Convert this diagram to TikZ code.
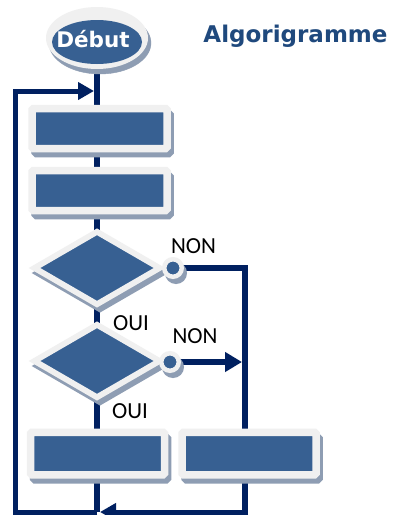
\documentclass[tikz,border=0pt]{standalone}
\usepackage{fontspec}
\setmainfont{Carlito}
\newfontfamily\dejavu{DejaVu Sans}
\usetikzlibrary{arrows.meta,shapes.geometric,calc}
\definecolor{fillblue}{HTML}{376092}
\definecolor{navy}{HTML}{002060}
\definecolor{ring}{HTML}{F0F0F0}
\definecolor{shade}{HTML}{8E9DB3}
\definecolor{titleblue}{HTML}{1F497D}
\tikzset{
  flow/.style={draw=navy, line width=6pt},
  loopline/.style={draw=navy, line width=5pt},
  tipA/.style={-{Triangle[length=16pt,width=17pt]}},
  shadowed/.style={preaction={fill=shade, draw=shade, transform canvas={shift={(3pt,-5pt)}}}},
  stepbox/.style={shape=rectangle, fill=fillblue, draw=ring, line width=7.5pt, rounded corners=1.5pt, inner sep=0pt, minimum width=135pt, minimum height=40pt, shadowed},
  test/.style={shape=diamond, fill=fillblue, draw=ring, line width=5.8pt, inner sep=0pt, minimum width=127.4pt, minimum height=74.8pt, shadowed},
  port/.style={shape=circle, fill=fillblue, draw=ring, line width=4.5pt, inner sep=0pt, minimum size=17.5pt, shadowed},
  lbl/.style={font=\fontsize{23}{23}\selectfont, text=black, anchor=base, inner sep=0pt},
}
\begin{document}
\begin{tikzpicture}[x=1pt,y=-1pt]
\useasboundingbox (0,0) rectangle (392,515);
\clip (0,0) rectangle (392,515);
\fill[white] (0,0) rectangle (392,515);
% coordinates of the connector corners
\coordinate (tl) at (15,91);
\coordinate (entry) at (94,91);
\coordinate (bl) at (15,512);
\coordinate (spinebot) at (97,512);
\coordinate (land) at (100,512);
\coordinate (br) at (245,512);
\coordinate (spinetop) at (97,42);
\coordinate (c1c) at (173,268);
\coordinate (c2c) at (170,362);
% connectors (behind the shapes)
\draw[flow] (spinetop) -- (spinebot);
\draw[flow] (c1c) -- (c1c -| br) -- (br);
\draw[loopline,tipA] ($(br)+(3,0)$) -- (land);
\draw[loopline,tipA] (spinebot) -- (bl) -- (tl) -- (entry);
\draw[flow,-{Triangle[length=17pt,width=19pt]}] (c2c) -- ($(c2c -| br)+(-3,0)$);
% start
\node[shape=ellipse, fill=ring, shadowed, inner sep=0pt, minimum width=102pt, minimum height=62pt] (debutring) at (97,38) {};
\node[shape=ellipse, fill=fillblue, inner sep=0pt, minimum width=90pt, minimum height=44pt] (debut) at (97,42) {};
\node[font=\dejavu\bfseries\fontsize{21.5}{21.5}\selectfont, text=white, anchor=base, inner sep=0pt] (debuttxt) at (93,47.5) {Début};
% title
\node[font=\dejavu\bfseries\fontsize{23}{23}\selectfont, text=titleblue, anchor=base, inner sep=0pt] (title) at (295.5,42) {Algorigramme};
% boxes
\node[stepbox] (b1) at (99.5,128.5) {};
\node[stepbox] (b2) at (99.5,190.5) {};
% tests
\node[test] (d1) at (97,268) {};
\node[port] (c1) at (c1c) {};
\node[test] (d2) at (97,361) {};
\node[port] (c2) at (c2c) {};
% bottom boxes
\node[stepbox, minimum width=134pt, minimum height=42.5pt] (b3) at (97.5,453.5) {};
\node[stepbox, minimum width=134pt, minimum height=42.5pt] (b4) at (249,453.5) {};
% labels
\node[lbl] (non1) at (193.5,253) {NON};
\node[lbl] (oui1) at (131,330) {OUI};
\node[lbl] (non2) at (195,343) {NON};
\node[lbl] (oui2) at (130,418) {OUI};
\end{tikzpicture}
\end{document}
